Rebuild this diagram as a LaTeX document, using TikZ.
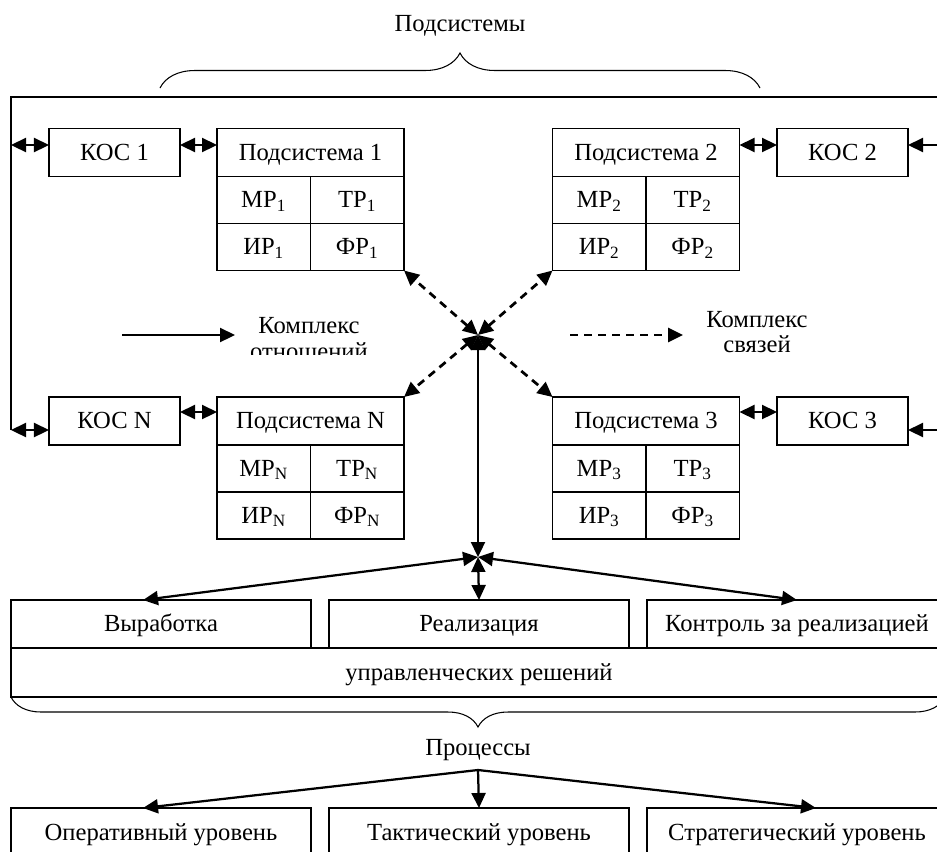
\documentclass[tikz,border=0pt]{standalone}
\usepackage{fontspec}
\setmainfont{Liberation Serif}
\usetikzlibrary{positioning,arrows.meta,decorations.pathreplacing}

\tikzset{
  txt/.style={inner sep=0pt, outer sep=0pt, text height=3.3mm, text depth=0.3mm,
    font=\fontsize{14}{16}\selectfont},
  box/.style={txt, draw, semithick},
  kosbox/.style={box, minimum width=26.2mm, minimum height=9.6mm},
  subhead/.style={box, minimum width=37.4mm, minimum height=9.6mm},
  cell/.style={box, minimum width=18.7mm, minimum height=9.4mm},
  procbox/.style={box, minimum width=60mm, minimum height=9.6mm},
  linkboth/.style={line width=0.45mm, {Triangle[length=3mm, width=2.8mm]}-{Triangle[length=3mm, width=2.8mm]}},
  linkto/.style={line width=0.45mm, -{Triangle[length=3mm, width=2.8mm]}},
  dlink/.style={line width=0.55mm, dash pattern=on 1.6mm off 1.2mm,
    {Triangle[length=3mm, width=2.8mm]}-{Triangle[length=3mm, width=2.8mm]}},
  dlinkto/.style={line width=0.55mm, dash pattern=on 1.6mm off 1.2mm,
    -{Triangle[length=3mm, width=2.8mm]}}
}

\begin{document}
\begin{tikzpicture}[x=0.2mm, y=-0.2mm]
  \useasboundingbox (0,0) rectangle (937,851);
  \clip (0,0) rectangle (937,851);

  \node[txt] (podsys) at (460,24) {Подсистемы};
  \draw[semithick, decorate, decoration={brace, amplitude=7mm}] (160,88) -- (760,88);

  \coordinate (ftop) at (11,97);
  \coordinate (l1) at (11,145);
  \coordinate (lN) at (11,430);
  \coordinate (r2) at (960,145);
  \coordinate (r3) at (960,430);
  \draw[semithick] (lN) -- (ftop) -- (ftop -| r2) -- (r3);

  \node[kosbox] (kos1) at (114.5,152.5) {КОС 1};
  \node[subhead] (sub1) at (310.5,152.5) {Подсистема 1};
  \node[cell, anchor=north west] (mr1) at (sub1.south west) {МР\textsubscript{1}};
  \node[cell, anchor=north east] (tr1) at (sub1.south east) {ТР\textsubscript{1}};
  \node[cell, below=0pt of mr1] (ir1) {ИР\textsubscript{1}};
  \node[cell, below=0pt of tr1] (fr1) {ФР\textsubscript{1}};

  \node[subhead] (sub2) at (646,152.5) {Подсистема 2};
  \node[cell, anchor=north west] (mr2) at (sub2.south west) {МР\textsubscript{2}};
  \node[cell, anchor=north east] (tr2) at (sub2.south east) {ТР\textsubscript{2}};
  \node[cell, below=0pt of mr2] (ir2) {ИР\textsubscript{2}};
  \node[cell, below=0pt of tr2] (fr2) {ФР\textsubscript{2}};
  \node[kosbox] (kos2) at (842.5,152.5) {КОС 2};

  \node[kosbox] (kosN) at (114.5,421) {КОС N};
  \node[subhead] (subN) at (310.5,421) {Подсистема N};
  \node[cell, anchor=north west] (mrN) at (subN.south west) {МР\textsubscript{N}};
  \node[cell, anchor=north east] (trN) at (subN.south east) {ТР\textsubscript{N}};
  \node[cell, below=0pt of mrN] (irN) {ИР\textsubscript{N}};
  \node[cell, below=0pt of trN] (frN) {ФР\textsubscript{N}};

  \node[subhead] (sub3) at (646,421) {Подсистема 3};
  \node[cell, anchor=north west] (mr3) at (sub3.south west) {МР\textsubscript{3}};
  \node[cell, anchor=north east] (tr3) at (sub3.south east) {ТР\textsubscript{3}};
  \node[cell, below=0pt of mr3] (ir3) {ИР\textsubscript{3}};
  \node[cell, below=0pt of tr3] (fr3) {ФР\textsubscript{3}};
  \node[kosbox] (kos3) at (842.5,421) {КОС 3};

  \draw[linkboth] (l1) -- (l1 -| kos1.west);
  \draw[linkboth] (kos1.east |- l1) -- (sub1.west |- l1);
  \draw[linkboth] (sub2.east |- l1) -- (kos2.west |- l1);
  \draw[linkboth] (kos2.east |- l1) -- (r2);
  \draw[linkboth] (lN) -- (lN -| kosN.west);
  \draw[linkboth] ([yshift=1.8mm]kosN.east) -- ([yshift=1.8mm]subN.west);
  \draw[linkboth] ([yshift=1.8mm]sub3.east) -- ([yshift=1.8mm]kos3.west);
  \draw[linkboth] (kos3.east |- r3) -- (r3);

  \coordinate (hub) at (478,335);
  \coordinate (hub2) at (478,557);
  \draw[dlink] (hub) -- (fr1.south east);
  \draw[dlink] (hub) -- (ir2.south west);
  \draw[dlink] (hub) -- (subN.north east);
  \draw[dlink] (hub) -- (sub3.north west);
  \draw[linkboth] (hub) -- (hub2);

  \coordinate (leg1a) at (122,335);
  \coordinate (leg1b) at (235,335);
  \draw[linkto] (leg1a) -- (leg1b);
  \node[txt, anchor=base] (otn1) at (309,333) {Комплекс};
  \begin{scope}
    \clip (200,300) rectangle (420,354);
    \node[txt, anchor=base] (otn2) at (309,359) {отношений};
  \end{scope}

  \coordinate (leg2a) at (570,335);
  \coordinate (leg2b) at (683,335);
  \draw[dlinkto] (leg2a) -- (leg2b);
  \node[txt, anchor=base] (svz1) at (757,327) {Комплекс};
  \node[txt, anchor=base] (svz2) at (757,352) {связей};

  \node[procbox] (vyr) at (161,624) {Выработка};
  \node[procbox] (real) at (479,624) {Реализация};
  \node[procbox] (kontr) at (797,624) {Контроль за реализацией};
  \node[box, minimum width=187.2mm, minimum height=9.8mm] (upr) at (479,672.5) {управленческих решений};

  \draw[linkboth] (hub2) -- ([xshift=-3.6mm]vyr.north);
  \draw[linkboth] (hub2) -- (real.north);
  \draw[linkboth] (hub2) -- (kontr.north);

  \draw[semithick, decorate, decoration={brace, mirror, amplitude=6mm}] (11,697) -- (945,697);
  \node[txt] (proc) at (478,748) {Процессы};

  \node[procbox, minimum height=12mm, anchor=north] (oper) at (161,808) {};
  \node[procbox, minimum height=12mm, anchor=north] (takt) at (479,808) {};
  \node[procbox, minimum height=12mm, anchor=north] (strat) at (797,808) {};
  \node[txt] at (161,833) {Оперативный уровень};
  \node[txt] at (479,833) {Тактический уровень};
  \node[txt] at (797,833) {Стратегический уровень};

  \coordinate (procO) at (478,770);
  \draw[linkto] (procO) -- ([xshift=-3.6mm]oper.north);
  \draw[linkto] (procO) -- (takt.north);
  \draw[linkto] (procO) -- ([xshift=3.8mm]strat.north);
\end{tikzpicture}
\end{document}
